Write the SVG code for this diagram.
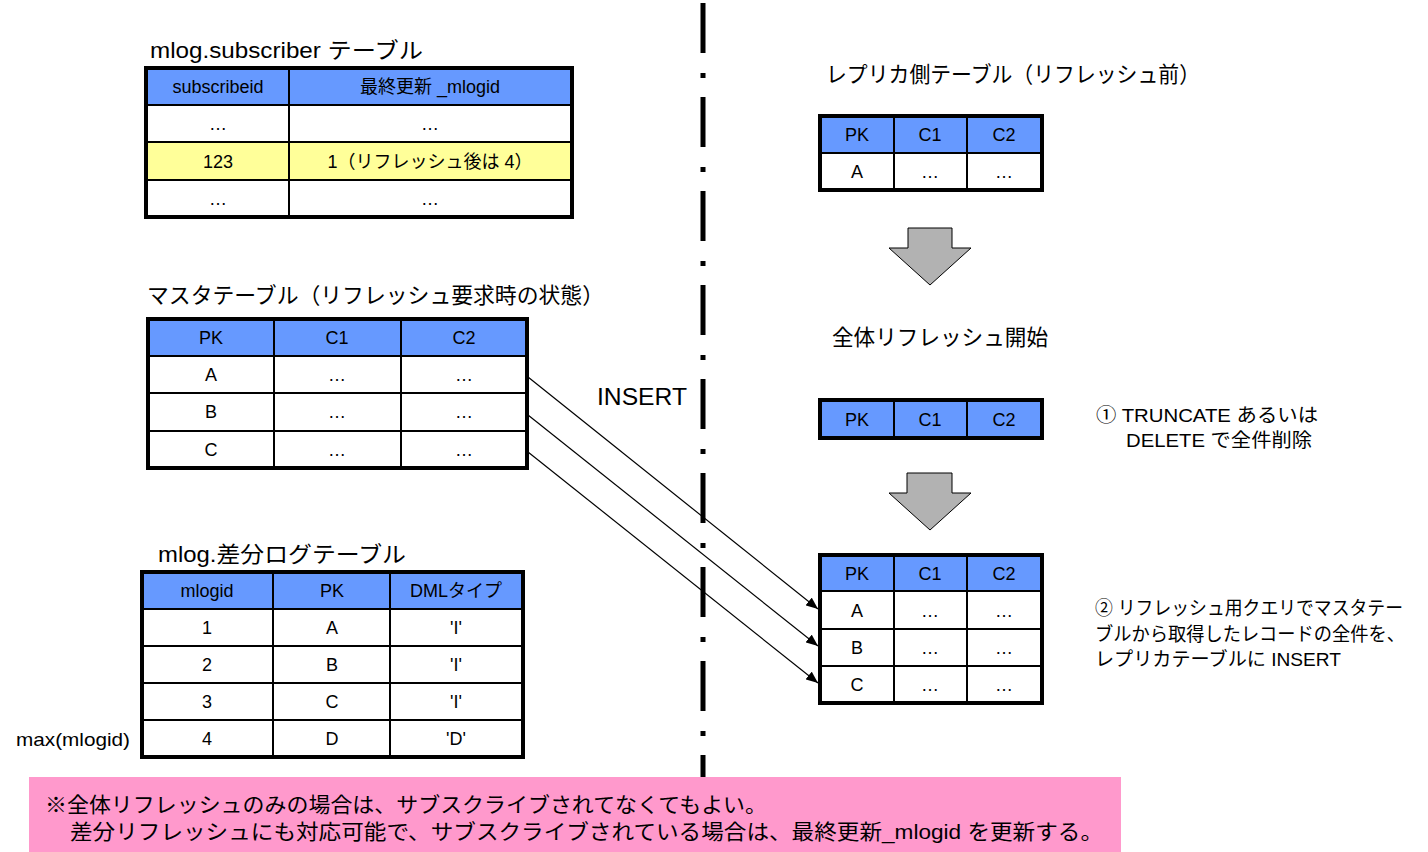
<svg xmlns="http://www.w3.org/2000/svg" width="1428" height="852" viewBox="0 0 1428 852">
<style>
.t{font-family:"Liberation Sans","Noto Sans CJK JP",sans-serif;fill:#000}
.c{font-size:18px;text-anchor:middle}
.ttl{font-size:22px}
.note{font-size:19px}
.hd{fill:#6699FF}
.bd{fill:#FFFFFF}
.yl{fill:#FFFF99}
.ob{fill:none;stroke:#000;stroke-width:4}
.ln{stroke:#000;stroke-width:2}
.garrow{fill:#B2B2B2;stroke:#000;stroke-width:1}
.conn{fill:none;stroke:#000;stroke-width:1.2}
</style>
<defs>
<marker id="ah" viewBox="0 0 12 10" refX="12" refY="5" markerWidth="12" markerHeight="10" markerUnits="userSpaceOnUse" orient="auto">
<path d="M0,0 L12,5 L0,10 Z" fill="#000"/>
</marker>
</defs>
<rect width="1428" height="852" fill="#FFFFFF"/>

<!-- divider -->
<line x1="703" y1="3" x2="703" y2="777" stroke="#000" stroke-width="5" stroke-dasharray="50 20 5 19"/>

<!-- mlog.subscriber table -->
<g id="subscriber-table">
<text class="t ttl" x="150" y="58" textLength="273" lengthAdjust="spacingAndGlyphs">mlog.subscriber テーブル</text>
<rect class="hd" x="146" y="68" width="426" height="37"/>
<rect class="bd" x="146" y="105" width="426" height="37"/>
<rect class="yl" x="146" y="142" width="426" height="38"/>
<rect class="bd" x="146" y="180" width="426" height="37"/>
<line class="ln" x1="146" y1="105" x2="572" y2="105"/>
<line class="ln" x1="146" y1="142" x2="572" y2="142"/>
<line class="ln" x1="146" y1="180" x2="572" y2="180"/>
<line class="ln" x1="289" y1="68" x2="289" y2="217"/>
<rect class="ob" x="146" y="68" width="426" height="149"/>
<text class="t c" x="218" y="93">subscribeid</text>
<text class="t c" x="430" y="93">最終更新 _mlogid</text>
<text class="t c" x="218" y="130">…</text>
<text class="t c" x="430" y="130">…</text>
<text class="t c" x="218" y="168">123</text>
<text class="t c" x="430" y="168">1（リフレッシュ後は 4）</text>
<text class="t c" x="218" y="205">…</text>
<text class="t c" x="430" y="205">…</text>
</g>

<!-- master table -->
<g id="master-table">
<text class="t ttl" x="147" y="303" textLength="457" lengthAdjust="spacingAndGlyphs">マスタテーブル（リフレッシュ要求時の状態）</text>
<rect class="hd" x="148" y="319" width="379" height="37"/>
<rect class="bd" x="148" y="356" width="379" height="112"/>
<line class="ln" x1="148" y1="356" x2="527" y2="356"/>
<line class="ln" x1="148" y1="393" x2="527" y2="393"/>
<line class="ln" x1="148" y1="431" x2="527" y2="431"/>
<line class="ln" x1="274" y1="319" x2="274" y2="468"/>
<line class="ln" x1="401" y1="319" x2="401" y2="468"/>
<rect class="ob" x="148" y="319" width="379" height="149"/>
<text class="t c" x="211" y="344">PK</text>
<text class="t c" x="337" y="344">C1</text>
<text class="t c" x="464" y="344">C2</text>
<text class="t c" x="211" y="381">A</text>
<text class="t c" x="337" y="381">…</text>
<text class="t c" x="464" y="381">…</text>
<text class="t c" x="211" y="418">B</text>
<text class="t c" x="337" y="418">…</text>
<text class="t c" x="464" y="418">…</text>
<text class="t c" x="211" y="456">C</text>
<text class="t c" x="337" y="456">…</text>
<text class="t c" x="464" y="456">…</text>
</g>

<!-- log table -->
<g id="log-table">
<text class="t ttl" x="158" y="562" textLength="248" lengthAdjust="spacingAndGlyphs">mlog.差分ログテーブル</text>
<rect class="hd" x="142" y="572" width="381" height="37"/>
<rect class="bd" x="142" y="609" width="381" height="148"/>
<line class="ln" x1="142" y1="609" x2="523" y2="609"/>
<line class="ln" x1="142" y1="646" x2="523" y2="646"/>
<line class="ln" x1="142" y1="683" x2="523" y2="683"/>
<line class="ln" x1="142" y1="720" x2="523" y2="720"/>
<line class="ln" x1="273" y1="572" x2="273" y2="757"/>
<line class="ln" x1="390" y1="572" x2="390" y2="757"/>
<rect class="ob" x="142" y="572" width="381" height="185"/>
<text class="t c" x="207" y="597">mlogid</text>
<text class="t c" x="332" y="597">PK</text>
<text class="t c" x="456" y="597">DMLタイプ</text>
<text class="t c" x="207" y="634">1</text>
<text class="t c" x="332" y="634">A</text>
<text class="t c" x="456" y="634">'I'</text>
<text class="t c" x="207" y="671">2</text>
<text class="t c" x="332" y="671">B</text>
<text class="t c" x="456" y="671">'I'</text>
<text class="t c" x="207" y="708">3</text>
<text class="t c" x="332" y="708">C</text>
<text class="t c" x="456" y="708">'I'</text>
<text class="t c" x="207" y="745">4</text>
<text class="t c" x="332" y="745">D</text>
<text class="t c" x="456" y="745">'D'</text>
<text class="t" x="16" y="746" font-size="19" textLength="114" lengthAdjust="spacingAndGlyphs">max(mlogid)</text>
</g>

<!-- replica before -->
<g id="replica-before">
<text class="t ttl" x="826" y="82" textLength="374" lengthAdjust="spacingAndGlyphs">レプリカ側テーブル（リフレッシュ前）</text>
<rect class="hd" x="820" y="116" width="222" height="37"/>
<rect class="bd" x="820" y="153" width="222" height="37"/>
<line class="ln" x1="820" y1="153" x2="1042" y2="153"/>
<line class="ln" x1="894" y1="116" x2="894" y2="190"/>
<line class="ln" x1="967" y1="116" x2="967" y2="190"/>
<rect class="ob" x="820" y="116" width="222" height="74"/>
<text class="t c" x="857" y="141">PK</text>
<text class="t c" x="930" y="141">C1</text>
<text class="t c" x="1004" y="141">C2</text>
<text class="t c" x="857" y="178">A</text>
<text class="t c" x="930" y="178">…</text>
<text class="t c" x="1004" y="178">…</text>
</g>

<g id="step-arrow-1">
<polygon class="garrow" points="908,228 952,228 952,248 971,248 930,285 889,248 908,248"/>
</g>

<g id="replica-truncated">
<text class="t ttl" x="832" y="345" textLength="216" lengthAdjust="spacingAndGlyphs">全体リフレッシュ開始</text>
<rect class="hd" x="820" y="400" width="222" height="38"/>
<line class="ln" x1="894" y1="400" x2="894" y2="438"/>
<line class="ln" x1="967" y1="400" x2="967" y2="438"/>
<rect class="ob" x="820" y="400" width="222" height="38"/>
<text class="t c" x="857" y="426">PK</text>
<text class="t c" x="930" y="426">C1</text>
<text class="t c" x="1004" y="426">C2</text>
</g>

<g id="note-1">
<text class="t note" x="1096" y="422" textLength="222" lengthAdjust="spacingAndGlyphs">① TRUNCATE あるいは</text>
<text class="t note" x="1126" y="447" textLength="186" lengthAdjust="spacingAndGlyphs">DELETE で全件削除</text>
</g>

<g id="step-arrow-2">
<polygon class="garrow" points="907,473 952,473 952,493 971,493 930,530 889,493 907,493"/>
</g>

<g id="replica-after">
<rect class="hd" x="820" y="555" width="222" height="36"/>
<rect class="bd" x="820" y="591" width="222" height="112"/>
<line class="ln" x1="820" y1="591" x2="1042" y2="591"/>
<line class="ln" x1="820" y1="629" x2="1042" y2="629"/>
<line class="ln" x1="820" y1="666" x2="1042" y2="666"/>
<line class="ln" x1="894" y1="555" x2="894" y2="703"/>
<line class="ln" x1="967" y1="555" x2="967" y2="703"/>
<rect class="ob" x="820" y="555" width="222" height="148"/>
<text class="t c" x="857" y="580">PK</text>
<text class="t c" x="930" y="580">C1</text>
<text class="t c" x="1004" y="580">C2</text>
<text class="t c" x="857" y="617">A</text>
<text class="t c" x="930" y="617">…</text>
<text class="t c" x="1004" y="617">…</text>
<text class="t c" x="857" y="654">B</text>
<text class="t c" x="930" y="654">…</text>
<text class="t c" x="1004" y="654">…</text>
<text class="t c" x="857" y="691">C</text>
<text class="t c" x="930" y="691">…</text>
<text class="t c" x="1004" y="691">…</text>
</g>

<g id="note-2">
<text class="t note" x="1095" y="615" textLength="308" lengthAdjust="spacingAndGlyphs">② リフレッシュ用クエリでマスタテー</text>
<text class="t note" x="1095" y="641" textLength="310" lengthAdjust="spacingAndGlyphs">ブルから取得したレコードの全件を、</text>
<text class="t note" x="1095" y="666" textLength="246" lengthAdjust="spacingAndGlyphs">レプリカテーブルに INSERT</text>
</g>

<!-- connectors -->
<g id="connectors">
<line class="conn" x1="528" y1="377" x2="818" y2="609" marker-end="url(#ah)"/>
<line class="conn" x1="528" y1="415" x2="818" y2="646" marker-end="url(#ah)"/>
<line class="conn" x1="528" y1="452" x2="818" y2="683" marker-end="url(#ah)"/>
<text class="t" x="597" y="405" font-size="24" textLength="90" lengthAdjust="spacingAndGlyphs">INSERT</text>
</g>

<!-- footnote -->
<g id="footnote">
<rect x="29" y="777" width="1092" height="75" fill="#FF99CC"/>
<text class="t" x="45" y="812" font-size="21" textLength="722" lengthAdjust="spacingAndGlyphs">※全体リフレッシュのみの場合は、サブスクライブされてなくてもよい。</text>
<text class="t" x="70" y="839" font-size="21" textLength="1033" lengthAdjust="spacingAndGlyphs">差分リフレッシュにも対応可能で、サブスクライブされている場合は、最終更新_mlogid を更新する。</text>
</g>
</svg>
